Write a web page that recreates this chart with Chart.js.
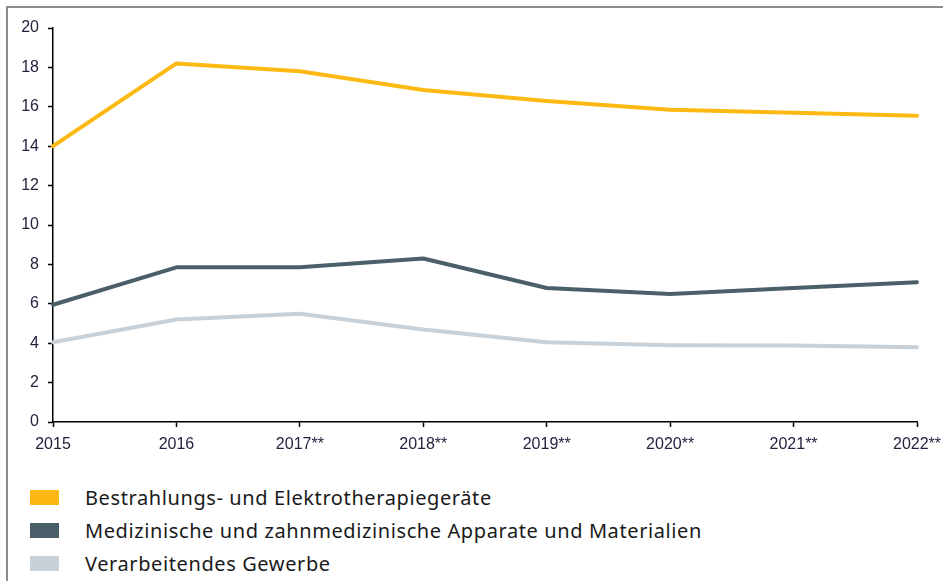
<!DOCTYPE html>
<html>
<head>
<meta charset="utf-8">
<script src="https://cdn.jsdelivr.net/npm/chart.js@4/dist/chart.umd.min.js"></script>
<style>
  body { margin: 0; background: #fff; }
  #wrap { position: relative; width: 943px; height: 581px; overflow: hidden; }
  #frame { position: absolute; left: 6px; top: 6px; right: -10px; bottom: -10px;
           border-top: 2px solid #8c8c8c; border-left: 2px solid #8c8c8c; }
  #plot { position: absolute; left: 0; top: 0; width: 943px; height: 460px; }
  #legend { position: absolute; left: 30px; top: 481px; font-family: "Noto Sans", sans-serif;
            font-size: 20px; letter-spacing: 0.6px; color: #1a1a1a; }
  .item { display: flex; align-items: center; height: 33px; }
  .box { width: 29px; height: 15px; margin-right: 26px; }
</style>
</head>
<body>
<div id="wrap">
  <div id="frame"></div>
  <div id="plot"><canvas id="c" width="943" height="460"></canvas></div>
  <div id="legend"></div>
</div>
<script>
// values
const years = ['2015', '2016', '2017**', '2018**', '2019**', '2020**', '2021**', '2022**'];
const seriesNames = [
  'Bestrahlungs- und Elektrotherapiegeräte',
  'Medizinische und zahnmedizinische Apparate und Materialien',
  'Verarbeitendes Gewerbe'
];
const bestrahlung = [14.0, 18.2, 17.8, 16.85, 16.3, 15.85, 15.7, 15.55];
const medizin = [5.95, 7.85, 7.85, 8.3, 6.8, 6.5, 6.8, 7.1];
const gewerbe = [4.05, 5.2, 5.5, 4.7, 4.05, 3.9, 3.88, 3.8];
const colors = ['#FDB913', '#4B5F6B', '#C9D1D8'];

const allData = [bestrahlung, medizin, gewerbe];

const tickFont = { family: 'Liberation Sans', size: 16 };
const tickColor = '#23233f';

const chart = new Chart(document.getElementById('c'), {
  type: 'line',
  data: {
    labels: years,
    datasets: allData.map((d, i) => ({
      label: seriesNames[i],
      data: d,
      borderColor: colors[i],
      backgroundColor: colors[i],
      borderWidth: 4,
      pointRadius: 0,
      tension: 0,
      borderCapStyle: 'round',
      borderJoinStyle: 'round'
    })).reverse()
  },
  options: {
    responsive: false,
    animation: false,
    layout: { padding: { top: 28, right: 26, left: 0, bottom: 0 } },
    plugins: { legend: { display: false }, tooltip: { enabled: false } },
    scales: {
      x: {
        offset: false,
        grid: { display: true, drawOnChartArea: false, drawTicks: true, tickLength: 5, tickColor: '#000', tickWidth: 1.5 },
        border: { display: true, color: '#000', width: 1.5 },
        ticks: { font: tickFont, color: tickColor, padding: 8, maxRotation: 0, autoSkip: false },
        afterFit(scale) {
          scale.height = 38;
          // let the last label hang over the right edge like in the original
          scale.paddingRight = 0;
          scale.paddingLeft = 0;
        }
      },
      y: {
        min: 0,
        max: 20,
        grid: { display: true, drawOnChartArea: false, drawTicks: true, tickLength: 5, tickColor: '#000', tickWidth: 1.5 },
        border: { display: true, color: '#000', width: 1.5 },
        ticks: { stepSize: 2, font: tickFont, color: tickColor, padding: 9 },
        afterFit(scale) { scale.width = 53; }
      }
    }
  }
});

// legend below the plot, built from the same arrays
const legend = document.getElementById('legend');
seriesNames.forEach((name, i) => {
  const row = document.createElement('div');
  row.className = 'item';
  const box = document.createElement('span');
  box.className = 'box';
  box.style.background = colors[i];
  const txt = document.createElement('span');
  txt.textContent = name;
  row.appendChild(box);
  row.appendChild(txt);
  legend.appendChild(row);
});
</script>
</body>
</html>
